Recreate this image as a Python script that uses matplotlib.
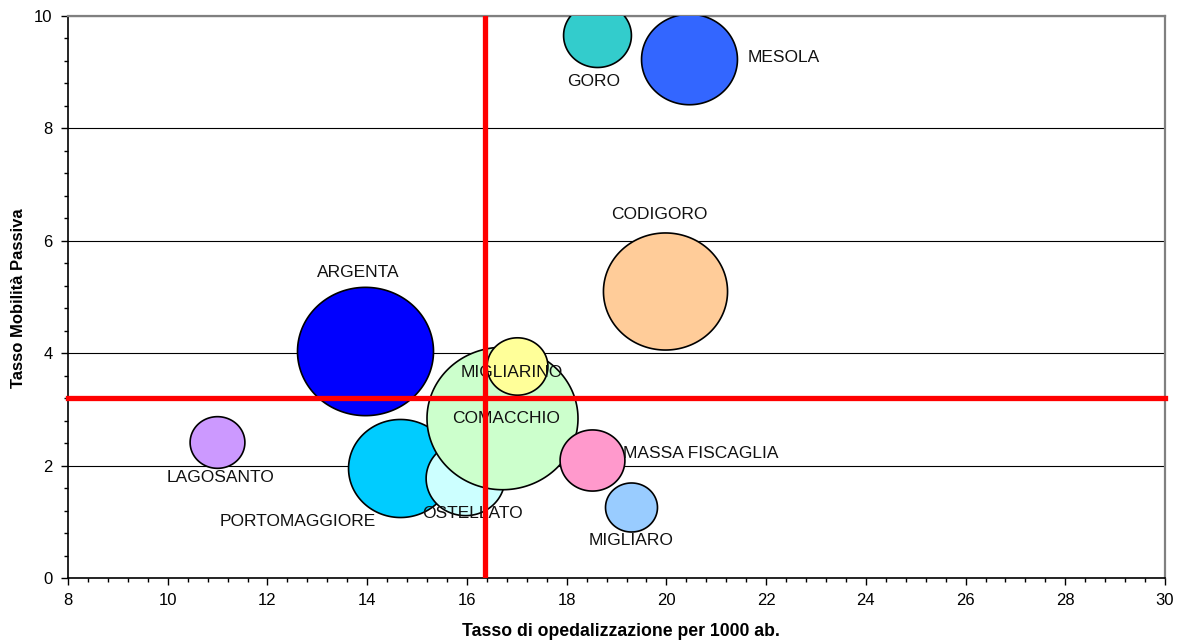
import numpy as np
import matplotlib
matplotlib.use("Agg")
import matplotlib.pyplot as plt
from matplotlib.path import Path
from matplotlib.ticker import MultipleLocator

plt.rcParams["font.family"] = ["Liberation Sans", "DejaVu Sans"]

# Comuni della provincia: tasso di ospedalizzazione (x), mobilità passiva (y)
comuni = ["PORTOMAGGIORE", "OSTELLATO", "COMACCHIO", "MIGLIARINO", "ARGENTA",
          "CODIGORO", "GORO", "MESOLA", "MASSA FISCAGLIA", "MIGLIARO", "LAGOSANTO"]
tasso_osp = [14.66, 15.96, 16.70, 17.00, 13.96, 19.97, 18.61, 20.45, 18.51, 19.29, 10.99]
mobilita = [1.96, 1.78, 2.85, 3.77, 4.04, 5.11, 9.66, 9.23, 2.10, 1.26, 2.42]
# dimensione della bolla (area proporzionale al valore)
peso = [108, 62, 228, 37, 185, 154, 46, 92, 42, 27, 30]
colori = ["#00CCFF", "#CCFFFF", "#CCFFCC", "#FFFF99", "#0000FF",
          "#FFCC99", "#33CCCC", "#3366FF", "#FF99CC", "#99CCFF", "#CC99FF"]

# medie di riferimento
media_x = 16.36
media_y = 3.20

fig = plt.figure(figsize=(11.81, 6.43), dpi=100)
ax = fig.add_axes([0.0576, 0.1011, 0.9289, 0.874])

# marker ellittico (bolle leggermente schiacciate)
t = np.linspace(0, 2 * np.pi, 200)
ell = Path(np.column_stack([1.06 * np.cos(t), np.sin(t)]), closed=True)

scala = 0.72 ** 2 * 100  # area del marker (pt^2) per unità di peso
for xv, yv, pv, c in zip(tasso_osp, mobilita, peso, colori):
    ax.scatter([xv], [yv], s=pv * scala, marker=ell, facecolor=c,
               edgecolor="black", linewidth=1.2, zorder=3)

# posizione delle etichette rispetto al centro della bolla
off = {
    "PORTOMAGGIORE": (-2.05, -0.96, "center"),
    "OSTELLATO": (0.16, -0.64, "center"),
    "COMACCHIO": (0.08, -0.02, "center"),
    "MIGLIARINO": (-0.10, -0.12, "center"),
    "ARGENTA": (-0.14, 1.39, "center"),
    "CODIGORO": (-0.12, 1.35, "center"),
    "GORO": (-0.06, -0.82, "center"),
    "MESOLA": (1.17, 0.04, "left"),
    "MASSA FISCAGLIA": (0.62, 0.11, "left"),
    "MIGLIARO": (0.00, -0.60, "center"),
    "LAGOSANTO": (0.06, -0.64, "center"),
}
for nome, xv, yv in zip(comuni, tasso_osp, mobilita):
    dx, dy, ha = off[nome]
    ax.text(xv + dx, yv + dy, nome, ha=ha, va="center", fontsize=12.5,
            color="#111111", zorder=4)

# linee delle medie
ax.axvline(media_x, color="#FF0000", linewidth=3.8, zorder=5)
ax.axhline(media_y, color="#FF0000", linewidth=3.8, zorder=5, clip_on=False)

ax.set_xlim(8, 30)
ax.set_ylim(0, 10)
ax.xaxis.set_major_locator(MultipleLocator(2))
ax.xaxis.set_minor_locator(MultipleLocator(0.4))
ax.yaxis.set_major_locator(MultipleLocator(2))
ax.yaxis.set_minor_locator(MultipleLocator(0.4))
ax.tick_params(axis="both", which="major", direction="out", length=5, width=1,
               labelsize=12, pad=6)
ax.tick_params(axis="both", which="minor", direction="out", length=3, width=1)

ax.grid(axis="y", which="major", color="black", linewidth=0.8, zorder=0)
ax.set_axisbelow(True)

for s in ("left", "bottom"):
    ax.spines[s].set_color("black")
    ax.spines[s].set_linewidth(1.2)
for s in ("top", "right"):
    ax.spines[s].set_color("#808080")
    ax.spines[s].set_linewidth(1.6)

ax.set_xlabel("Tasso di opedalizzazione per 1000 ab.", fontsize=12.7,
              fontweight="bold")
ax.set_ylabel("Tasso Mobilità Passiva", fontsize=12, fontweight="bold")
ax.xaxis.set_label_coords(0.5042, -0.080)
ax.yaxis.set_label_coords(-0.0385, 0.498)

fig.savefig("out.png", dpi=100)
